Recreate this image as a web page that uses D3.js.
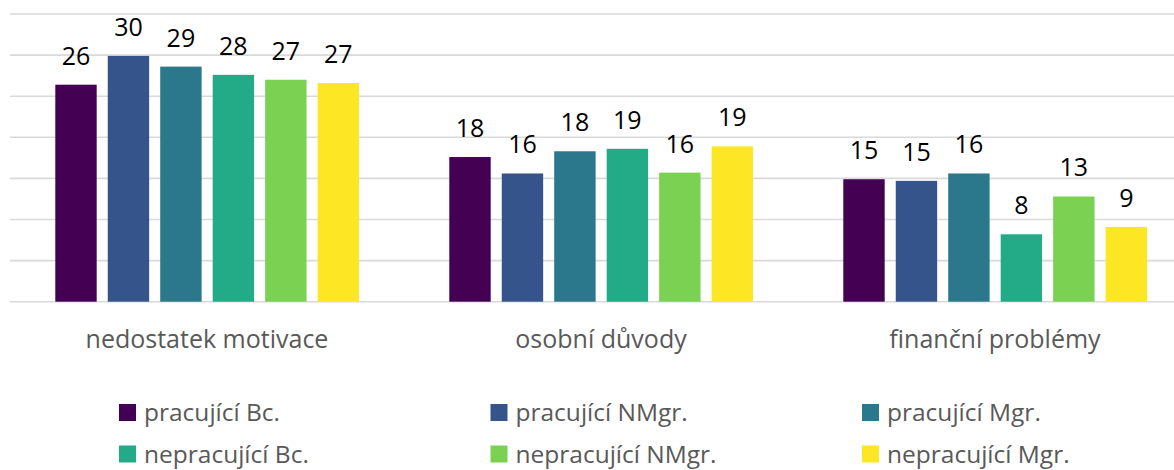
<!doctype html>
<meta charset="utf-8" />
<style>
    body { margin: 0; background: #fff; }
    text { font-family: "Open Sans", sans-serif; }
</style>
<svg></svg>
<script src="https://cdn.jsdelivr.net/npm/d3@7/dist/d3.min.js"></script>
<script>
    var categories = ['nedostatek motivace', 'osobní důvody', 'finanční problémy']
    var series = ['pracující Bc.', 'pracující NMgr.', 'pracující Mgr.',
        'nepracující Bc.', 'nepracující NMgr.', 'nepracující Mgr.']
    var colors = ['#440154', '#35548b', '#2b778c', '#23aa86', '#7ad152', '#fde725']
    // one array per series, in category order
    var pracBc = [26.4, 17.6, 14.9]
    var pracNMgr = [29.9, 15.6, 14.7]
    var pracMgr = [28.6, 18.3, 15.6]
    var neprBc = [27.6, 18.6, 8.2]
    var neprNMgr = [27.0, 15.7, 12.8]
    var neprMgr = [26.6, 18.9, 9.1]
    var values = [pracBc, pracNMgr, pracMgr, neprBc, neprNMgr, neprMgr]
    var yTicks = [0, 5, 10, 15, 20, 25, 30, 35]

    var W = 1174, H = 470
    var svg = d3.select('svg')
        .attr('width', W)
        .attr('height', H)

    var x0 = d3.scaleBand()
        .domain(categories)
        .range([10, 1192])
    var x1 = d3.scaleBand()
        .domain(series)
        .range([45.3, 349])
        .paddingInner(0.211)
    var y = d3.scaleLinear()
        .domain([0, 35])
        .range([301.7, 14])

    // gridlines
    svg.append('g')
        .selectAll('line')
        .data(yTicks)
        .join('line')
        .attr('x1', 10)
        .attr('x2', W)
        .attr('y1', d => y(d))
        .attr('y2', d => y(d))
        .style('stroke', '#d9d9d9')
        .style('stroke-width', 1.6)

    var groups = svg.append('g')
        .selectAll('g')
        .data(categories)
        .join('g')
        .attr('transform', d => 'translate(' + x0(d) + ',0)')

    var cells = groups.selectAll('g')
        .data((c, ci) => series.map((s, si) => ({ s: s, si: si, v: values[si][ci] })))
        .join('g')

    cells.append('rect')
        .attr('x', d => x1(d.s))
        .attr('width', x1.bandwidth())
        .attr('y', d => y(d.v))
        .attr('height', d => y(0) - y(d.v))
        .style('fill', d => colors[d.si])

    cells.append('text')
        .attr('x', d => x1(d.s) + x1.bandwidth() / 2)
        .attr('y', d => y(d.v) - 20)
        .attr('text-anchor', 'middle')
        .style('font-size', '25px')
        .style('fill', '#000')
        .text(d => Math.round(d.v))

    // category labels
    svg.append('g')
        .selectAll('text')
        .data(categories)
        .join('text')
        .attr('x', d => x0(d) + x0.bandwidth() / 2)
        .attr('y', 348)
        .attr('text-anchor', 'middle')
        .style('font-size', '25px')
        .style('fill', '#595959')
        .text(d => d)

    // legend
    var legend = svg.append('g')
        .selectAll('g')
        .data(series)
        .join('g')
        .attr('transform', (d, i) => 'translate(' + (119 + (i % 3) * 371.5) + ',' + (404 + Math.floor(i / 3) * 41.5) + ')')
    legend.append('rect')
        .attr('width', 17)
        .attr('height', 17)
        .style('fill', (d, i) => colors[i])
    legend.append('text')
        .attr('x', 25)
        .attr('y', 17)
        .style('font-size', '24.5px')
        .style('fill', '#595959')
        .text(d => d)
</script>
